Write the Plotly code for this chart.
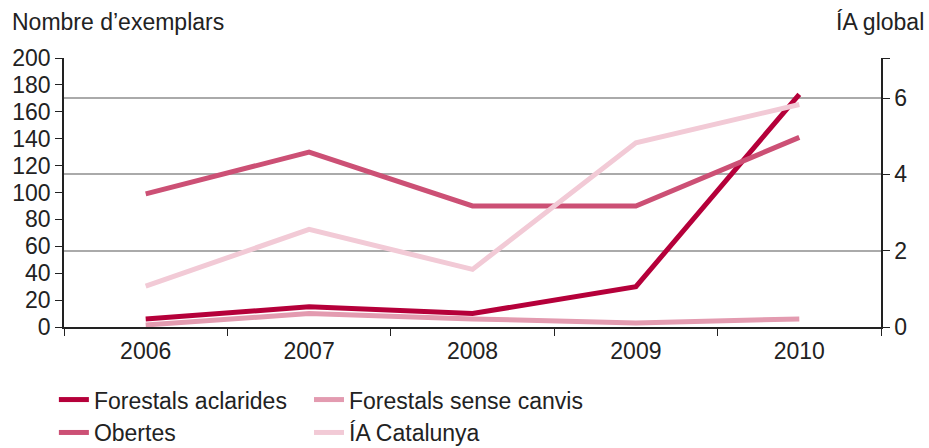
import plotly.graph_objs as go

years = ["2006", "2007", "2008", "2009", "2010"]
aclarides = [6, 15, 10, 30, 173]
sense_canvis = [1.5, 10, 6, 3, 6]
obertes = [99, 130, 90, 90, 141]
ia_catalunya = [1.07, 2.56, 1.51, 4.83, 5.83]

left_ticks = [0, 20, 40, 60, 80, 100, 120, 140, 160, 180, 200]
right_ticks = [0, 2, 4, 6, 7.05]
right_labels = ["0", "2", "4", "6", ""]

FONT = "Liberation Sans, Arial, sans-serif"
TXT = "#222222"

fig = go.Figure()
fig.add_trace(go.Scatter(x=years, y=aclarides, name="Forestals aclarides", mode="lines",
                         line=dict(color="#b5003a", width=5), legend="legend"))
fig.add_trace(go.Scatter(x=years, y=sense_canvis, name="Forestals sense canvis", mode="lines",
                         line=dict(color="#e39bb0", width=5), legend="legend2"))
fig.add_trace(go.Scatter(x=years, y=obertes, name="Obertes", mode="lines",
                         line=dict(color="#cc5075", width=5), legend="legend"))
fig.add_trace(go.Scatter(x=years, y=ia_catalunya, name="ÍA Catalunya", mode="lines",
                         line=dict(color="#f2cad6", width=5), yaxis="y2", legend="legend2"))

leg = dict(orientation="v", xref="container", yref="container", y=0.156,
           xanchor="left", yanchor="top", font=dict(size=23), itemwidth=30,
           tracegroupgap=0, bgcolor="rgba(0,0,0,0)")

fig.update_layout(
    width=929, height=448,
    margin=dict(l=64, r=48, t=58, b=121, autoexpand=False),
    plot_bgcolor="white", paper_bgcolor="white",
    font=dict(family=FONT, size=23, color=TXT),
    xaxis=dict(type="category", range=[-0.5, 4.5], showline=True, linecolor="#222",
               linewidth=1.5, ticks="outside", tickson="boundaries", ticklen=7,
               tickcolor="#222", showgrid=False, zeroline=False, ticklabelstandoff=3),
    yaxis=dict(range=[0, 200], tickvals=left_ticks, showline=True, linecolor="#222",
               linewidth=1.5, ticks="outside", ticklen=7, tickcolor="#222",
               showgrid=False, zeroline=False),
    yaxis2=dict(range=[0, 7.05], overlaying="y", side="right", tickvals=right_ticks,
                ticktext=right_labels, showline=True, linecolor="#222", linewidth=1.5,
                ticks="outside", ticklen=7, tickcolor="#222", showgrid=True,
                gridcolor="#aaaaaa", gridwidth=1.5, zeroline=False),
    legend=dict(leg, x=0.058),
    legend2=dict(leg, x=0.3326),
    annotations=[
        dict(text="Nombre d’exemplars", xref="paper", yref="paper", x=-0.066, y=1.134,
             xanchor="left", yanchor="middle", showarrow=False, font=dict(size=23)),
        dict(text="ÍA global", xref="paper", yref="paper", x=1.055, y=1.134,
             xanchor="right", yanchor="middle", showarrow=False, font=dict(size=23)),
    ],
)

fig.write_html("out.html", config={"displayModeBar": False},
               post_script="document.body.style.margin='0';")
